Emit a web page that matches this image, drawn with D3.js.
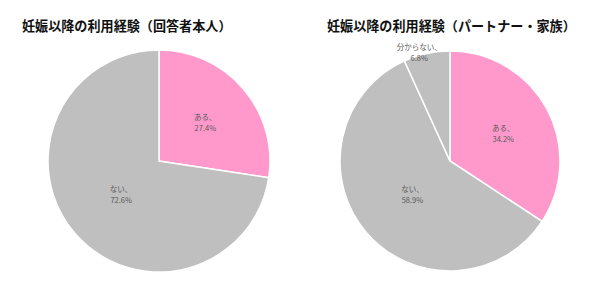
<!DOCTYPE html>
<html>
<head>
<meta charset="utf-8">
<script src="https://cdn.jsdelivr.net/npm/d3@7"></script>
<style>
  body { margin: 0; background: #fff; }
  svg { display: block; }
</style>
</head>
<body>
<svg id="chart" width="600" height="296"></svg>
<script>
// Chart data.
const titles = ["妊娠以降の利用経験（回答者本人）", "妊娠以降の利用経験（パートナー・家族）"];
const selfCategories = ["ある", "ない"];
const selfValues = [27.4, 72.6];
const partnerCategories = ["ある", "ない", "分からない"];
const partnerValues = [34.2, 58.9, 6.8];

const colors = { "ある": "#ff99cc", "ない": "#bfbfbf", "分からない": "#bfbfbf" };
const font = "'Noto Sans CJK JP', 'Noto Sans', sans-serif";

const svg = d3.select("#chart");

// Function to draw one pie with title and labels.
function drawPie(cats, vals, opts) {
  const data = cats.map((c, i) => ({ name: c, value: vals[i] }));
  const pie = d3.pie().sort(null).value((d) => d.value);
  const arcs = pie(data);
  const arc = d3.arc().innerRadius(0).outerRadius(opts.r);
  const labelArc = d3.arc().innerRadius(opts.r * 0.55).outerRadius(opts.r * 0.55);
  const bigLabelArc = d3.arc().innerRadius(opts.r * 0.45).outerRadius(opts.r * 0.45);

  svg
    .append("text")
    .attr("x", opts.titleX)
    .attr("y", 31)
    .attr("font-family", font)
    .attr("font-size", 13.1)
    .attr("font-weight", "bold")
    .attr("fill", "#111")
    .text(opts.title);

  const g = svg.append("g").attr("transform", `translate(${opts.cx},${opts.cy})`);

  g.selectAll("path")
    .data(arcs)
    .join("path")
    .attr("d", arc)
    .attr("fill", (d) => colors[d.data.name])
    .attr("stroke", "#fff")
    .attr("stroke-width", 1.5);

  const labels = g
    .selectAll("g.lbl")
    .data(arcs)
    .join("g")
    .attr("class", "lbl")
    .attr("transform", (d) => {
      const span = d.endAngle - d.startAngle;
      // Small slices get their label outside, just past the rim.
      if (span < 0.5) {
        const a = (d.startAngle + d.endAngle) / 2 - 0.07;
        return `translate(${Math.sin(a) * opts.r},${-Math.cos(a) * opts.r - 4})`;
      }
      const [x, y] = (span > Math.PI ? bigLabelArc : labelArc).centroid(d);
      return `translate(${x},${y})`;
    });

  labels
    .append("text")
    .attr("text-anchor", "middle")
    .attr("font-family", font)
    .attr("font-size", 7.5)
    .attr("fill", "#595959")
    .selectAll("tspan")
    .data((d) => [`${d.data.name}、`, `${d.data.value.toFixed(1)}%`])
    .join("tspan")
    .attr("x", 0)
    .attr("dy", (t, i) => (i === 0 ? "-0.2em" : "1.45em"))
    .text((t) => t);
}

drawPie(selfCategories, selfValues, { cx: 159, cy: 161, r: 111, title: titles[0], titleX: 22 });
drawPie(partnerCategories, partnerValues, { cx: 450, cy: 161, r: 110, title: titles[1], titleX: 327 });
</script>
</body>
</html>
